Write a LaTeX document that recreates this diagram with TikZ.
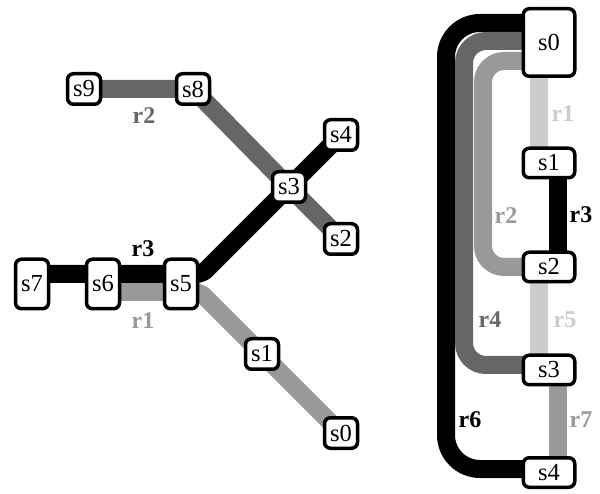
\documentclass[tikz,border=0pt]{standalone}
\usepackage{fontspec}
\setmainfont{Liberation Serif}
\usetikzlibrary{calc,backgrounds}
\definecolor{darkroute}{HTML}{666666}
\definecolor{midroute}{HTML}{999999}
\definecolor{lightroute}{HTML}{CCCCCC}
\begin{document}
\begin{tikzpicture}[x=1pt,y=-1pt,
  station/.style={draw, line width=3.5pt, rounded corners=6pt, fill=white,
    inner sep=0pt, font=\fontsize{24.5}{24.5}\selectfont},
  lstat/.style={station, minimum width=33pt, minimum height=30.5pt},
  ltall/.style={lstat, minimum height=49.5pt},
  rstat/.style={station, minimum width=51.5pt, minimum height=29.5pt},
  route/.style={line width=18pt},
  rlabel/.style={font=\bfseries\fontsize{24}{24}\selectfont}]
\useasboundingbox (0,0) rectangle (600,494);

% ---- left network ----
\node[lstat] (L9) at (84,89) {s9};
\node[lstat] (L8) at (193,89) {s8};
\node[lstat] (L3) at (289,187) {s3};
\node[lstat] (L4) at (341,135) {s4};
\node[lstat] (L2) at (341,239) {s2};
\node[ltall] (L7) at (32,284) {s7};
\node[ltall] (L6) at (103,284) {s6};
\node[ltall] (L5) at (181,284) {s5};
\node[lstat] (L1) at (262,354) {s1};
\node[lstat] (L0) at (341,433) {s0};
\coordinate (bendA) at (202,274);
\coordinate (bendB) at (200,292);

\begin{pgfonlayer}{background}
  \draw[route, darkroute, rounded corners=4pt]
    (L9.center) -- (L8.center) -- (L3.center) -- (L2.center);
  \draw[route, midroute, rounded corners=6pt]
    ($(L6.center)+(0,8)$) -- ($(L5.center)+(0,8)$) -- (bendB) -- (L1.center) -- (L0.center);
  \draw[route, black, rounded corners=6pt]
    ($(L7.center)+(0,-10)$) -- ($(L5.center)+(0,-10)$) -- (bendA) -- (L3.center) -- (L4.center);
\end{pgfonlayer}

\node[rlabel, text=darkroute] (labL2) at (144,116) {r2};
\node[rlabel, text=black] (labL3) at (143,249) {r3};
\node[rlabel, text=midroute] (labL1) at (143,321) {r1};

% ---- right network ----
\node[rstat, minimum height=67.5pt] (R0) at (549,42.5) {s0};
\node[rstat] (R1) at (549,163) {s1};
\node[rstat] (R2) at (549,267) {s2};
\node[rstat] (R3) at (549,370) {s3};
\node[rstat] (R4) at (549,472.5) {s4};

\begin{pgfonlayer}{background}
  \draw[route, black, rounded corners=34pt]
    ($(R0.center)+(0,-19.5)$) -- ++(-103,0) |- ($(R4.center)+(0,-3.5)$);
  \draw[route, darkroute, rounded corners=22pt]
    ($(R0.center)+(0,-1.5)$) -- ++(-85,0) |- ($(R3.center)+(0,-5)$);
  \draw[route, midroute, rounded corners=21pt]
    ($(R0.center)+(0,18.5)$) -- ++(-66,0) |- (R2.center);
  \draw[route, lightroute] ($(R0.center)+(-10,0)$) -- ($(R1.center)+(-10,0)$);
  \draw[route, black] ($(R1.center)+(9,0)$) -- ($(R2.center)+(9,0)$);
  \draw[route, lightroute] ($(R2.center)+(-10,0)$) -- ($(R3.center)+(-10,0)$);
  \draw[route, midroute] ($(R3.center)+(9,0)$) -- ($(R4.center)+(9,0)$);
\end{pgfonlayer}

\node[rlabel, text=lightroute] (labR1) at (563,114) {r1};
\node[rlabel, text=midroute] (labR2) at (506,216) {r2};
\node[rlabel, text=black] (labR3) at (581,215) {r3};
\node[rlabel, text=darkroute] (labR4) at (490,320) {r4};
\node[rlabel, text=lightroute] (labR5) at (565,320) {r5};
\node[rlabel, text=black] (labR6) at (470,420) {r6};
\node[rlabel, text=midroute] (labR7) at (581,420) {r7};
\end{tikzpicture}
\end{document}
